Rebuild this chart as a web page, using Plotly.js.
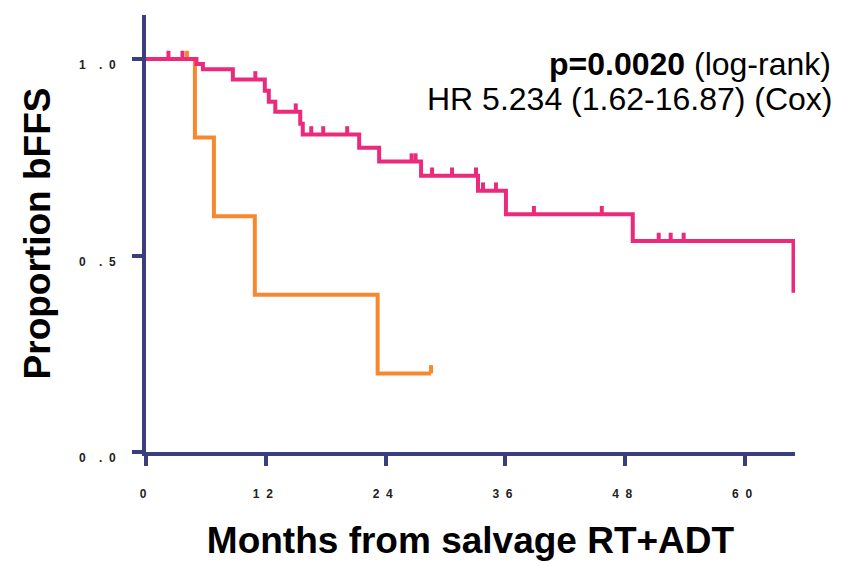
<!DOCTYPE html>
<html>
<head>
<meta charset="utf-8">
<script src="https://cdn.plot.ly/plotly-3.0.1.min.js"></script>
<style>html,body{margin:0;padding:0;background:#fff;}#chart{width:868px;height:566px;}</style>
</head>
<body>
<div id="chart"></div>
<script>
// ---- data ----
const pinkEventMonths = [5.05, 5.7, 8.7, 11.9, 12.3, 12.95, 15.45, 15.7, 21.35, 23.35, 27.55, 33.25, 36.05, 48.75, 64.85];
const pinkSurvival    = [0.987, 0.974, 0.948, 0.919, 0.891, 0.866, 0.835, 0.808, 0.774, 0.739, 0.703, 0.665, 0.605, 0.537, 0.405];
const pinkCensorMonths = [2.25, 3.65, 10.95, 15.0, 16.55, 17.75, 20.15, 26.6, 27.0, 28.65, 30.65, 33.05, 33.75, 35.05, 38.85, 45.65, 51.35, 52.55, 53.85];

const orangeEventMonths = [4.9, 6.8, 10.9, 23.2];
const orangeSurvival    = [0.8, 0.6, 0.4, 0.2];
const orangeCensorMonths = [4.1, 28.55];

const NB = "\u00a0";
const xTickVals = [0, 12, 24, 36, 48, 60];
const xTickText = ["0", "1" + NB + NB + "2", "2" + NB + NB + "4", "3" + NB + NB + "6", "4" + NB + NB + "8", "6" + NB + NB + "0"];
const yTickVals = [0, 0.5, 1.0];
const yTickText = ["0" + NB + NB + NB + NB + "." + NB + NB + "0", "0" + NB + NB + NB + NB + "." + NB + NB + "5", "1" + NB + NB + NB + NB + "." + NB + NB + "0"];

const PINK = "#ec2a7c";
const ORANGE = "#f7882f";
const NAVY = "#3a3d7e";
const TICK_H = 0.021;

function survAt(evT, evS, t) {
  let s = 1;
  for (let i = 0; i < evT.length; i++) if (evT[i] <= t) s = evS[i];
  return s;
}
function curve(evT, evS, censT) {
  const x = [0], y = [1];
  for (let i = 0; i < evT.length; i++) { x.push(evT[i]); y.push(evS[i]); }
  const lastC = Math.max(...censT);
  if (lastC > evT[evT.length - 1]) { x.push(lastC); y.push(evS[evS.length - 1]); }
  return {x, y};
}
function censorTicks(evT, evS, censT) {
  const x = [], y = [];
  censT.forEach(t => {
    const s = survAt(evT, evS, t);
    x.push(t, t, null); y.push(s, s + TICK_H, null);
  });
  return {x, y};
}

const oc = curve(orangeEventMonths, orangeSurvival, orangeCensorMonths);
const ot = censorTicks(orangeEventMonths, orangeSurvival, orangeCensorMonths);
const pc = curve(pinkEventMonths, pinkSurvival, pinkCensorMonths);
const pt = censorTicks(pinkEventMonths, pinkSurvival, pinkCensorMonths);

const traces = [
  {x: oc.x, y: oc.y, mode: "lines", line: {shape: "hv", color: ORANGE, width: 4}, hoverinfo: "skip"},
  {x: ot.x, y: ot.y, mode: "lines", line: {color: ORANGE, width: 4}, hoverinfo: "skip"},
  {x: pc.x, y: pc.y, mode: "lines", line: {shape: "hv", color: PINK, width: 4}, hoverinfo: "skip"},
  {x: pt.x, y: pt.y, mode: "lines", line: {color: PINK, width: 4}, hoverinfo: "skip"}
];

const tickFont = {family: "Liberation Sans, Arial, sans-serif", size: 12, color: "#222", weight: "bold"};
const titleFont = {family: "Liberation Sans, Arial, sans-serif", size: 37, color: "#000", weight: "bold"};
const annFont = {family: "Liberation Sans, Arial, sans-serif", size: 32, color: "#000"};

const layout = {
  width: 868, height: 566,
  margin: {l: 146, r: 73, t: 15, b: 114},
  paper_bgcolor: "#fff", plot_bgcolor: "#fff",
  showlegend: false,
  xaxis: {
    range: [0, 65], showgrid: false, zeroline: false,
    showline: true, linecolor: NAVY, linewidth: 4,
    ticks: "outside", ticklen: 10, tickwidth: 4, tickcolor: NAVY,
    tickvals: xTickVals, ticktext: xTickText, tickfont: tickFont,
    ticklabelstandoff: 18, ticklabelshift: -3,
    title: {text: "Months from salvage RT+ADT", font: titleFont, standoff: 28}
  },
  yaxis: {
    range: [0, 1.112], showgrid: false, zeroline: false,
    showline: true, linecolor: NAVY, linewidth: 4,
    ticks: "outside", ticklen: 10, tickwidth: 4, tickcolor: NAVY,
    tickvals: yTickVals, ticktext: yTickText, tickfont: tickFont,
    ticklabelstandoff: 14, ticklabelshift: 6,
    title: {text: "Proportion bFFS", font: titleFont, standoff: 18}
  },
  annotations: [
    {xref: "paper", yref: "paper", x: 1.0586, y: 0.888, xanchor: "right", yanchor: "middle", showarrow: false,
     text: "<b>p=0.0020</b> (log-rank)", font: annFont},
    {xref: "paper", yref: "paper", x: 1.0617, y: 0.808, xanchor: "right", yanchor: "middle", showarrow: false,
     text: "HR 5.234 (1.62-16.87) (Cox)", font: annFont}
  ]
};

Plotly.newPlot("chart", traces, layout, {displayModeBar: false, staticPlot: true});
</script>
</body>
</html>
